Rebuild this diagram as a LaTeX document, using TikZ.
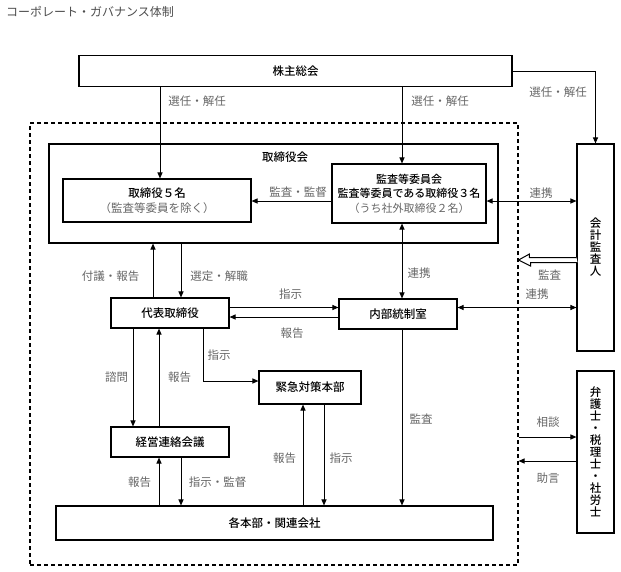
\documentclass[tikz,border=0pt]{standalone}
\usepackage{fontspec}
\setmainfont{Noto Sans CJK JP}
\newfontfamily\medfont{Noto Sans CJK JP Medium}
\usetikzlibrary{arrows.meta}

\begin{document}
\begin{tikzpicture}[x=1pt,y=-1pt,
		box/.style={draw,line width=1.1pt,inner sep=0pt,align=center,font=\fontsize{11.5}{14.5}\selectfont\medfont},
		vbox/.style={box,font=\fontsize{11.5}{12}\selectfont\medfont},
		lbl/.style={inner sep=0pt,text=black!60,font=\fontsize{11.5}{12}\selectfont},
		arr/.style={line width=1pt,-{Triangle[length=6pt,width=5pt]}},
		arrs/.style={line width=1pt,{Triangle[length=6pt,width=5pt]}-{Triangle[length=6pt,width=5pt]}}]
	\useasboundingbox (0,0) rectangle (621,571);
	\node[lbl,anchor=west,text=black!70,font=\fontsize{12}{12}\selectfont] (title) at (6,12) {コーポレート・ガバナンス体制};
	% boxes
	\node[box,minimum width=433,minimum height=31] (kabu) at (295.5,71) {株主総会};
	\node[draw,line width=1.1pt,dash pattern=on 4pt off 3pt,minimum width=488,minimum height=442] (ctrl) at (274,344) {};
	\node[box,minimum width=449,minimum height=99] (board) at (273.5,193.5) {};
	\node[lbl,text=black,font=\fontsize{11.5}{12}\selectfont\medfont] (boardlbl) at (285,157) {取締役会};
	\node[box,minimum width=188,minimum height=43] (dir5) at (157,200.5) {取締役５名\\\textcolor{black!60}{\normalfont（監査等委員を除く）}};
	\node[box,minimum width=154,minimum height=59,font=\fontsize{11}{14.5}\selectfont\medfont] (audit) at (409,193.5) {監査等委員会\\監査等委員である取締役３名\\\textcolor{black!60}{\normalfont（うち社外取締役２名）}};
	\node[vbox,minimum width=37,minimum height=207] (auditor) at (595.5,247.5) {会\\計\\監\\査\\人};
	\node[box,minimum width=118,minimum height=30] (ceo) at (170,313) {代表取締役};
	\node[box,minimum width=118,minimum height=30] (internal) at (398,314) {内部統制室};
	\node[box,minimum width=102,minimum height=33] (crisis) at (310,387.5) {緊急対策本部};
	\node[box,minimum width=118,minimum height=30] (mgmt) at (170,442) {経営連絡会議};
	\node[box,minimum width=437,minimum height=34] (depts) at (274.5,523) {各本部・関連会社};
	\node[vbox,minimum width=37,minimum height=162] (lawyers) at (595.5,452) {弁\\護\\士\\・\\税\\理\\士\\・\\社\\労\\士};
	% columns and rows of the connectors
	\coordinate (k1) at (160,0);
	\coordinate (k2) at (402,0);
	\coordinate (k3) at (153,0);
	\coordinate (k4) at (181,0);
	\coordinate (k5) at (133,0);
	\coordinate (k6) at (159,0);
	\coordinate (k7) at (203,0);
	\coordinate (k8) at (303,0);
	\coordinate (k9) at (324,0);
	\coordinate (r1) at (0,201);
	\coordinate (r2) at (0,260);
	\coordinate (r3) at (0,307.5);
	\coordinate (r4) at (0,317);
	\coordinate (r5) at (0,381);
	\coordinate (r6) at (0,437);
	\coordinate (r7) at (0,461);
	% connectors
	\draw[arr] (kabu.south -| k1) -- (dir5.north -| k1);
	\draw[arr] (kabu.south -| k2) -- (audit.north -| k2);
	\draw[arr] (kabu.east) -| (auditor.north);
	\draw[arr] (audit.west |- r1) -- (dir5.east |- r1);
	\draw[arrs] (audit.east |- r1) -- (auditor.west |- r1);
	\draw[arrs] (audit.south -| k2) -- (internal.north -| k2);
	\draw[arr] (internal.south -| k2) -- (depts.north -| k2);
	\draw[arrs] (internal.east |- r3) -- (auditor.west |- r3);
	\draw[arr] (ceo.north -| k3) -- (board.south -| k3);
	\draw[arr] (board.south -| k4) -- (ceo.north -| k4);
	\draw[arr] (ceo.east |- r3) -- (internal.west |- r3);
	\draw[arr] (internal.west |- r4) -- (ceo.east |- r4);
	\draw[arr] (ceo.south -| k7) |- (crisis.west |- r5);
	\draw[arr] (ceo.south -| k5) -- (mgmt.north -| k5);
	\draw[arr] (mgmt.north -| k6) -- (ceo.south -| k6);
	\draw[arr] (depts.north -| k6) -- (mgmt.south -| k6);
	\draw[arr] (mgmt.south -| k4) -- (depts.north -| k4);
	\draw[arr] (depts.north -| k8) -- (crisis.south -| k8);
	\draw[arr] (crisis.south -| k9) -- (depts.north -| k9);
	\draw[arr] (ctrl.east |- r6) -- (lawyers.west |- r6);
	\draw[arr] (lawyers.west |- r7) -- (ctrl.east |- r7);
	% hollow arrow 監査
	\coordinate (h1) at (auditor.west |- r2);
	\coordinate (h2) at (ctrl.east |- r2);
	\draw[line width=1pt,fill=white,line join=miter] (h1) ++(0,-2.5) -- ++(-47,0) -- ++(0,-3.5)
		-- (h2) -- ++(12,6) -- ++(0,-3.5) -- ++(47,0);
	% labels
	\node[lbl] (l1) at (197,101) {選任・解任};
	\node[lbl] (l2) at (440,101) {選任・解任};
	\node[lbl] (l3) at (558,92) {選任・解任};
	\node[lbl] (l4) at (298,192) {監査・監督};
	\node[lbl] (l5) at (541,193) {連携};
	\node[lbl] (l6) at (110.5,276) {付議・報告};
	\node[lbl] (l7) at (219,276) {選定・解職};
	\node[lbl] (l8) at (419,273) {連携};
	\node[lbl] (l9) at (549.5,275) {監査};
	\node[lbl] (l10) at (537,294) {連携};
	\node[lbl] (l11) at (290.5,294) {指示};
	\node[lbl] (l12) at (292,333) {報告};
	\node[lbl] (l13) at (219,355) {指示};
	\node[lbl] (l14) at (116.5,377) {諮問};
	\node[lbl] (l15) at (179.5,377) {報告};
	\node[lbl] (l16) at (421,419) {監査};
	\node[lbl] (l17) at (548,422) {相談};
	\node[lbl] (l18) at (284.5,458) {報告};
	\node[lbl] (l19) at (341,458) {指示};
	\node[lbl] (l20) at (548,478) {助言};
	\node[lbl] (l21) at (139.5,482) {報告};
	\node[lbl] (l22) at (217.5,482) {指示・監督};
\end{tikzpicture}
\end{document}
